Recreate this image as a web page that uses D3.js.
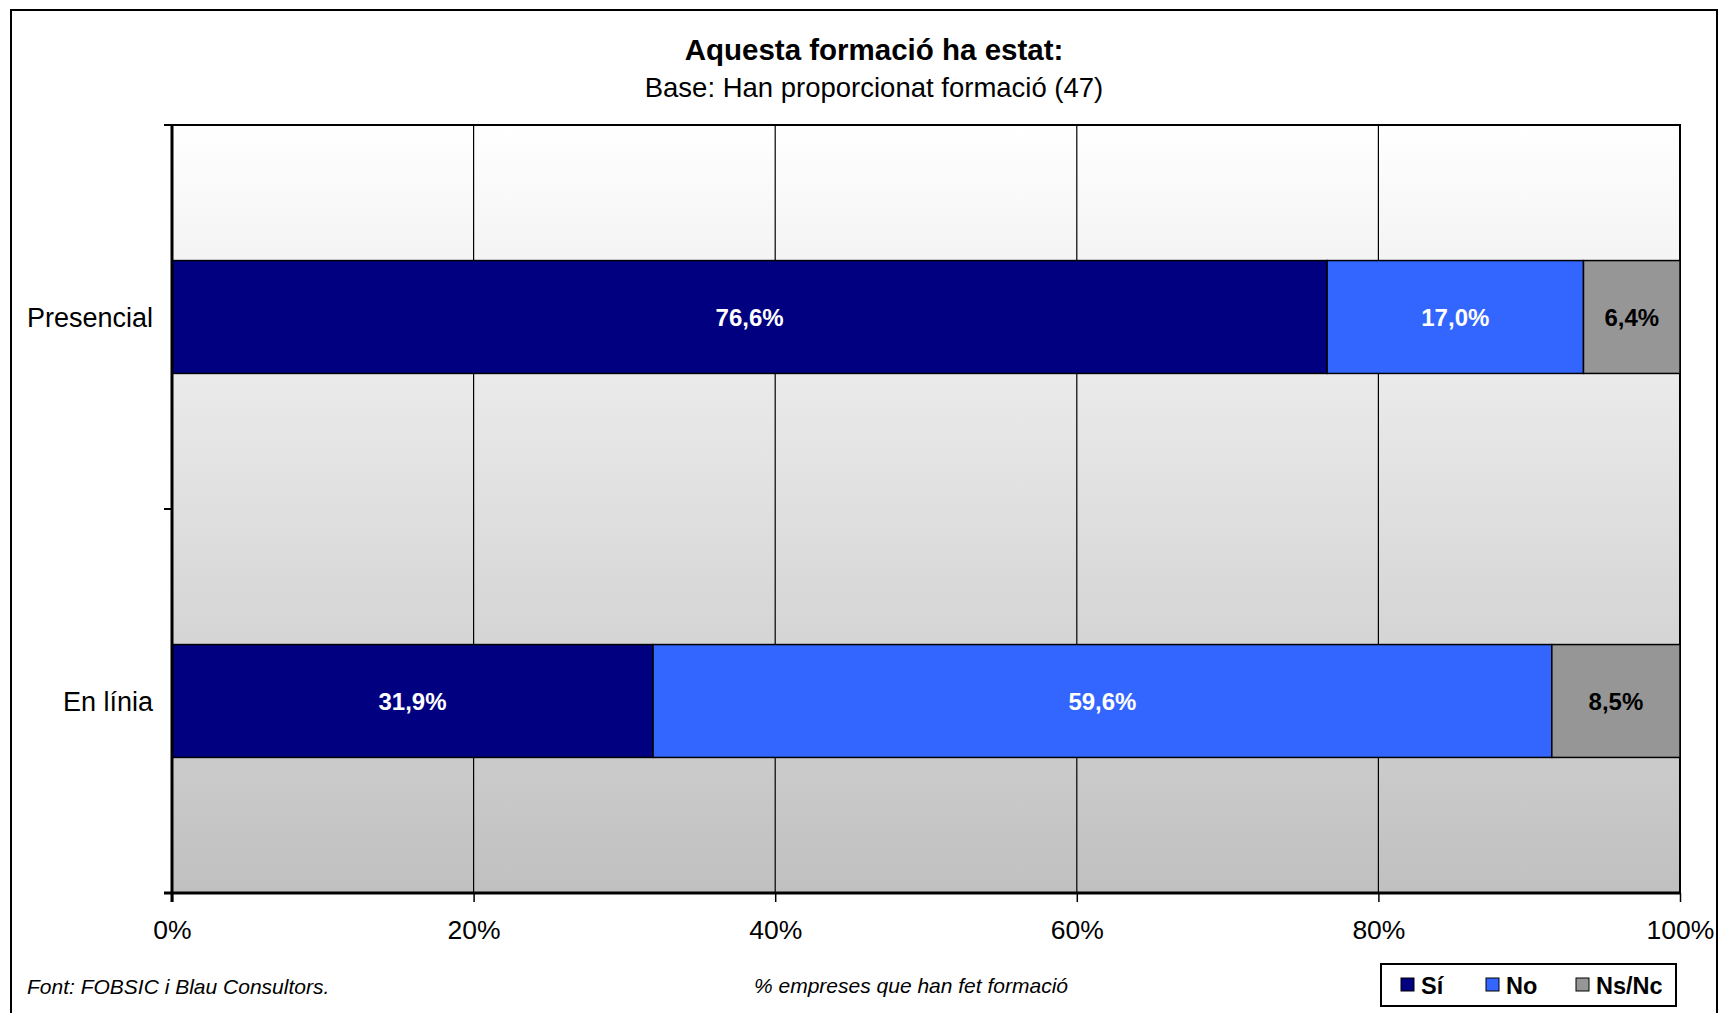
<!DOCTYPE html>
<html><head><meta charset="utf-8">
<script src="https://cdn.jsdelivr.net/npm/d3@7"></script>
<style>
body{margin:0;background:#fff;}
svg{display:block;font-family:"Liberation Sans",Arial,sans-serif;}
</style></head>
<body>
<svg id="chart" width="1728" height="1013"></svg>
<script>
const categories = ["Presencial", "En línia"];
const seriesNames = ["Sí", "No", "Ns/Nc"];
const valuesSi = [76.6, 31.9];
const valuesNo = [17.0, 59.6];
const valuesNs = [6.4, 8.5];
const xTicks = [0, 20, 40, 60, 80, 100];
const colors = ["#000080", "#3366FF", "#969696"];
const labelColors = ["#ffffff", "#ffffff", "#000000"];

const svg = d3.select("#chart");
const W = 1728, H = 1013;
const plot = {left: 172, right: 1680, top: 125, bottom: 893};

// outer border
svg.append("rect").attr("x", 11).attr("y", 10).attr("width", 1706).attr("height", 1030)
  .attr("fill", "#fff").attr("stroke", "#000").attr("stroke-width", 2);

const x = d3.scaleLinear().domain([0, 100]).range([plot.left, plot.right]);
const y = d3.scaleBand().domain(categories).range([plot.top, plot.bottom])
  .paddingInner(0.706).paddingOuter(0.353);

// gradient background
const defs = svg.append("defs");
const grad = defs.append("linearGradient").attr("id", "bg").attr("x1", 0).attr("x2", 0).attr("y1", 0).attr("y2", 1);
grad.append("stop").attr("offset", "0%").attr("stop-color", "#ffffff");
grad.append("stop").attr("offset", "100%").attr("stop-color", "#c0c0c0");
svg.append("rect").attr("x", plot.left).attr("y", plot.top)
  .attr("width", plot.right - plot.left).attr("height", plot.bottom - plot.top)
  .attr("fill", "url(#bg)");

// gridlines
svg.append("g").selectAll("line").data(xTicks.slice(1)).join("line")
  .attr("x1", d => x(d)).attr("x2", d => x(d))
  .attr("y1", plot.top).attr("y2", plot.bottom)
  .attr("stroke", "#000").attr("stroke-width", 1.2);

// plot top border
svg.append("line").attr("x1", plot.left - 8).attr("x2", plot.right + 1)
  .attr("y1", plot.top).attr("y2", plot.top).attr("stroke", "#000").attr("stroke-width", 2);
svg.append("line").attr("x1", plot.right).attr("x2", plot.right)
  .attr("y1", plot.top).attr("y2", plot.bottom).attr("stroke", "#000").attr("stroke-width", 2);

// stacked data
const rows = categories.map((c, i) => ({cat: c, vals: [valuesSi[i], valuesNo[i], valuesNs[i]]}));
const segs = [];
rows.forEach(r => {
  let acc = 0;
  r.vals.forEach((v, k) => { segs.push({cat: r.cat, k, x0: acc, x1: acc + v, v}); acc += v; });
});

svg.append("g").selectAll("rect").data(segs).join("rect")
  .attr("x", d => x(d.x0)).attr("width", d => x(d.x1) - x(d.x0))
  .attr("y", d => y(d.cat)).attr("height", y.bandwidth())
  .attr("fill", d => colors[d.k]).attr("stroke", "#000").attr("stroke-width", 1.5);

const fmt = v => v.toFixed(1).replace(".", ",") + "%";
svg.append("g").selectAll("text").data(segs).join("text")
  .attr("x", d => (x(d.x0) + x(d.x1)) / 2)
  .attr("y", d => y(d.cat) + y.bandwidth() / 2)
  .attr("dy", "0.36em").attr("text-anchor", "middle")
  .attr("font-size", 24).attr("font-weight", "bold")
  .attr("fill", d => labelColors[d.k]).text(d => fmt(d.v));

// x axis
const xAxis = d3.axisBottom(x).tickValues(xTicks).tickFormat(d => d + "%").tickSize(9).tickPadding(18);
const gx = svg.append("g").attr("transform", `translate(0,${plot.bottom})`).call(xAxis);
gx.select(".domain").attr("stroke-width", 3).attr("d", `M${plot.left - 8},0H${plot.right}`);
gx.selectAll(".tick line").attr("stroke-width", 1.5);
gx.selectAll(".tick text").attr("font-size", 26.5).attr("font-family", "Liberation Sans, Arial, sans-serif").attr("fill", "#000");

// y axis
const gy = svg.append("g");
gy.append("line").attr("x1", plot.left).attr("x2", plot.left)
  .attr("y1", plot.top).attr("y2", plot.bottom + 9).attr("stroke", "#000").attr("stroke-width", 3);
const bounds = d3.range(categories.length + 1).map(i => y.range()[0] + i * y.step());
gy.selectAll("line.tk").data(bounds).join("line").attr("class", "tk")
  .attr("x1", plot.left - 8).attr("x2", plot.left).attr("y1", d => d).attr("y2", d => d)
  .attr("stroke", "#000").attr("stroke-width", 2);
gy.selectAll("text").data(categories).join("text")
  .attr("x", 153).attr("y", d => y(d) + y.bandwidth() / 2).attr("dy", "0.36em")
  .attr("text-anchor", "end").attr("font-size", 27).attr("fill", "#000").text(d => d);

// titles
svg.append("text").attr("x", 874).attr("y", 60).attr("text-anchor", "middle")
  .attr("font-size", 29.5).attr("font-weight", "bold").text("Aquesta formació ha estat:");
svg.append("text").attr("x", 874).attr("y", 97).attr("text-anchor", "middle")
  .attr("font-size", 27.5).text("Base: Han proporcionat formació (47)");

// footer
svg.append("text").attr("x", 27).attr("y", 994).attr("font-size", 21).attr("font-style", "italic")
  .text("Font: FOBSIC i Blau Consultors.");
svg.append("text").attr("x", 754).attr("y", 993).attr("font-size", 21).attr("font-style", "italic")
  .text("% empreses que han fet formació");

// legend
const lg = svg.append("g");
lg.append("rect").attr("x", 1381).attr("y", 964).attr("width", 295).attr("height", 42)
  .attr("fill", "#fff").attr("stroke", "#000").attr("stroke-width", 2);
const legX = [1401, 1486, 1576];
seriesNames.forEach((n, i) => {
  lg.append("rect").attr("x", legX[i]).attr("y", 978).attr("width", 13).attr("height", 13)
    .attr("fill", colors[i]).attr("stroke", "#000").attr("stroke-width", 1);
  lg.append("text").attr("x", legX[i] + 20).attr("y", 994).attr("font-size", 23.5)
    .attr("font-weight", "bold").text(n);
});
</script>
</body></html>
